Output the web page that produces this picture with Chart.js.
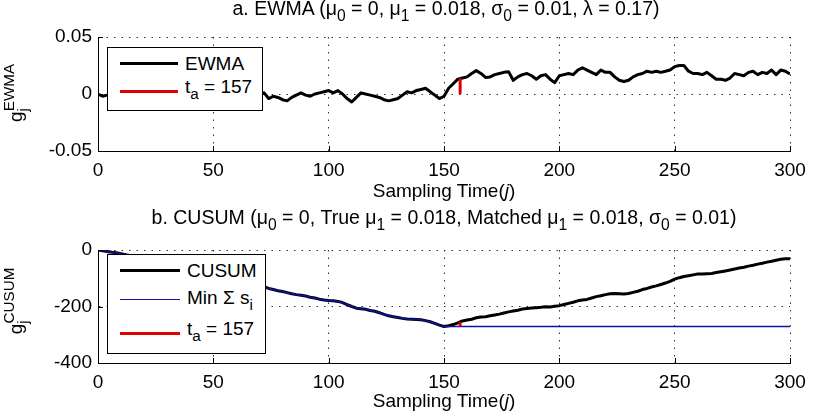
<!DOCTYPE html>
<html>
<head>
<meta charset="utf-8">
<script src="https://cdn.jsdelivr.net/npm/chart.js@4.4.0/dist/chart.umd.min.js"></script>
<style>
  body { margin: 0; background: #fff; }
  #page { position: relative; width: 814px; height: 418px; overflow: hidden;
          font-family: 'Liberation Sans', Arial, sans-serif; color: #000; }
  canvas { position: absolute; left: 0; }
  .t { position: absolute; white-space: nowrap; font-size: 19px; line-height: 19px; }
  .ttl { font-size: 19.5px; }
  .c { transform: translateX(-50%); }
  .sb { font-size: 0.8em; position: relative; top: 0.38em; }
  .ylab { transform: translate(-50%, -50%) rotate(-90deg); }
  .ylab .sp { font-size: 0.8em; position: relative; top: -0.5em; margin-left: -0.2em; }
  .box { position: absolute; border: 1px solid #000; background: #fff; box-sizing: border-box; }
  .sw { position: absolute; }
</style>
</head>
<body>
<div id="page">
  <canvas id="ewma" width="814" height="185" style="top:0"></canvas>
  <canvas id="cusum" width="814" height="218" style="top:200px"></canvas>

  <div class="t c ttl" style="left:446px;top:-1px">a. EWMA (μ<span class="sb">0</span> = 0, μ<span class="sb">1</span> = 0.018, σ<span class="sb">0</span> = 0.01, λ = 0.17)</div>
  <div class="t c" style="left:444px;top:181px">Sampling Time(<i>j</i>)</div>
  <div class="t c ttl" style="left:444px;top:208px">b. CUSUM (μ<span class="sb">0</span> = 0, True μ<span class="sb">1</span> = 0.018, Matched μ<span class="sb">1</span> = 0.018, σ<span class="sb">0</span> = 0.01)</div>
  <div class="t c" style="left:444px;top:391px">Sampling Time(<i>j</i>)</div>

  <div class="t ylab" style="left:16px;top:93px">g<span class="sb">j</span><span class="sp">EWMA</span></div>
  <div class="t ylab" style="left:16px;top:301px">g<span class="sb">j</span><span class="sp">CUSUM</span></div>

  <!-- legend a -->
  <div class="box" style="left:107px;top:47px;width:156px;height:64px"></div>
  <div class="sw" style="left:120px;top:61.5px;width:58px;height:3px;background:#000"></div>
  <div class="t" style="left:185px;top:54px">EWMA</div>
  <div class="sw" style="left:120px;top:89.5px;width:58px;height:3px;background:#e00000"></div>
  <div class="t" style="left:185px;top:77px">t<span class="sb">a</span> = 157</div>

  <!-- legend b -->
  <div class="box" style="left:107px;top:254px;width:159px;height:100px"></div>
  <div class="sw" style="left:120px;top:269px;width:60px;height:3px;background:#000"></div>
  <div class="t" style="left:187px;top:261px">CUSUM</div>
  <div class="sw" style="left:120px;top:299px;width:60px;height:1px;background:#1010b0"></div>
  <div class="t" style="left:187px;top:288px">Min Σ s<span class="sb">i</span></div>
  <div class="sw" style="left:120px;top:331.5px;width:60px;height:3px;background:#e00000"></div>
  <div class="t" style="left:187px;top:319px">t<span class="sb">a</span> = 157</div>
</div>

<script>
// sampling times j = 0, 2, ..., 300
const J = [];
for (let j = 0; j <= 300; j += 2) J.push(j);

const X_TICKS = [0, 50, 100, 150, 200, 250, 300];
const Y_EWMA_TICKS = [-0.05, 0, 0.05];
const Y_CUSUM_TICKS = [-400, -200, 0];

const EWMA = [
  0.000,-0.002,-0.001,0.001,0.002,0.000,-0.002,-0.001,0.002,0.003,
  0.001,-0.001,-0.003,-0.002,0.000,0.002,0.001,-0.001,-0.003,-0.004,
  -0.002,0.000,0.002,0.003,0.001,-0.001,0.000,0.002,0.001,-0.002,
  -0.003,-0.001,0.001,0.000,-0.002,-0.001,0.001,-0.004,-0.002,-0.003,
  -0.005,-0.006,-0.003,-0.001,0.001,-0.001,-0.002,0.000,0.001,0.002,
  0.003,0.001,0.003,0.000,-0.004,-0.007,-0.003,0.001,0.000,-0.001,
  -0.002,-0.003,-0.005,-0.006,-0.005,-0.004,-0.001,0.002,0.001,0.003,
  0.004,0.005,0.002,-0.001,-0.004,-0.002,0.005,0.009,0.013,0.014,
  0.015,0.018,0.0205,0.018,0.0145,0.015,0.017,0.018,0.019,0.0196,
  0.012,0.015,0.017,0.018,0.016,0.013,0.016,0.017,0.013,0.010,
  0.016,0.017,0.018,0.017,0.021,0.023,0.021,0.019,0.017,0.021,
  0.019,0.019,0.015,0.012,0.011,0.012,0.015,0.017,0.018,0.020,
  0.019,0.020,0.019,0.020,0.021,0.024,0.025,0.025,0.020,0.018,
  0.018,0.017,0.019,0.016,0.013,0.013,0.012,0.014,0.018,0.017,
  0.016,0.019,0.020,0.017,0.019,0.018,0.021,0.017,0.021,0.020,
  0.0175
];

const CUSUM = [
  0,-3,-5,-8,-10,-13,-17,-20,-25,-28,
  -32,-35,-40,-44,-46,-50,-55,-58,-62,-65,
  -70,-73,-77,-82,-84,-88,-92,-96,-99,-104,
  -108,-111,-115,-118,-122,-126,-130,-136,-140,-144,
  -147,-151,-155,-158,-160,-163,-167,-170,-174,-177,
  -179,-180,-182,-186,-193,-200,-206,-208,-210,-214,
  -217,-222,-228,-233,-236,-239,-242,-244,-245,-246,
  -247,-250,-254,-260,-266,-271,-268,-264,-258,-251,
  -248,-245,-240,-237,-236,-233,-230,-227,-223,-219,
  -216,-213,-209,-207,-205,-204,-203,-201,-202,-199,
  -197,-193,-189,-185,-180,-177,-175,-170,-165,-162,
  -158,-155,-154,-155,-156,-154,-150,-146,-140,-136,
  -131,-127,-122,-117,-111,-103,-98,-94,-91,-88,
  -85,-85,-84,-83,-80,-77,-74,-71,-67,-64,
  -61,-57,-54,-50,-47,-43,-40,-36,-33,-31,
  -31
];

const MIN_SUM = [
  0,-3,-5,-8,-10,-13,-17,-20,-25,-28,
  -32,-35,-40,-44,-46,-50,-55,-58,-62,-65,
  -70,-73,-77,-82,-84,-88,-92,-96,-99,-104,
  -108,-111,-115,-118,-122,-126,-130,-136,-140,-144,
  -147,-151,-155,-158,-160,-163,-167,-170,-174,-177,
  -179,-180,-182,-186,-193,-200,-206,-208,-210,-214,
  -217,-222,-228,-233,-236,-239,-242,-244,-245,-246,
  -247,-250,-254,-260,-266,-271,-271,-271,-271,-271,
  -271,-271,-271,-271,-271,-271,-271,-271,-271,-271,
  -271,-271,-271,-271,-271,-271,-271,-271,-271,-271,
  -271,-271,-271,-271,-271,-271,-271,-271,-271,-271,
  -271,-271,-271,-271,-271,-271,-271,-271,-271,-271,
  -271,-271,-271,-271,-271,-271,-271,-271,-271,-271,
  -271,-271,-271,-271,-271,-271,-271,-271,-271,-271,
  -271,-271,-271,-271,-271,-271,-271,-271,-271,-271,
  -271
];

const TA = 157;
const TA_EWMA = [0, 0.0138];
const TA_CUSUM = [-271, -255];

Chart.defaults.font.family = "'Liberation Sans', Arial, sans-serif";
Chart.defaults.font.size = 19;
Chart.defaults.color = '#000';

const pts = vals => vals.map((v, i) => ({x: J[i], y: v}));

// matlab-style ticks pointing into the axes
const innerTicks = {
  id: 'innerTicks',
  afterDraw(chart) {
    const {ctx, chartArea: a, scales: {x, y}} = chart;
    ctx.save();
    ctx.strokeStyle = '#000';
    ctx.lineWidth = 1;
    ctx.beginPath();
    x.ticks.forEach(t => {
      const px = Math.round(x.getPixelForValue(t.value)) + 0.5;
      ctx.moveTo(px, a.bottom); ctx.lineTo(px, a.bottom - 5);
    });
    y.ticks.forEach(t => {
      const py = Math.round(y.getPixelForValue(t.value)) + 0.5;
      ctx.moveTo(a.left, py); ctx.lineTo(a.left + 5, py);
    });
    ctx.stroke();
    ctx.restore();
  }
};

function axes(yMin, yMax, yTicks, padTop, xHeight) {
  const grid = {color: '#333', lineWidth: 1, drawTicks: false};
  const border = {display: true, color: '#000', width: 1, dash: [1.5, 6]};
  return {
    layout: {padding: {top: padTop, right: 24, bottom: 0, left: 0}},
    scales: {
      x: {
        type: 'linear', min: 0, max: 300,
        afterBuildTicks: s => { s.ticks = X_TICKS.map(v => ({value: v})); },
        afterFit: s => { s.height = xHeight; },
        ticks: {autoSkip: false, maxRotation: 0, padding: 8},
        grid, border
      },
      y: {
        min: yMin, max: yMax,
        afterBuildTicks: s => { s.ticks = yTicks.map(v => ({value: v})); },
        afterFit: s => { s.width = 98; },
        ticks: {padding: 6, callback: v => String(v)},
        grid, border
      }
    }
  };
}

const common = {
  responsive: false,
  animation: false,
  plugins: {legend: {display: false}, tooltip: {enabled: false}},
  elements: {point: {radius: 0}, line: {tension: 0, borderJoinStyle: 'round'}}
};

new Chart(document.getElementById('ewma'), {
  type: 'line',
  data: {
    datasets: [
      {label: 'EWMA', data: pts(EWMA), borderColor: '#000', borderWidth: 3, order: 2},
      {label: 't_a = 157', data: TA_EWMA.map(v => ({x: TA, y: v})),
       borderColor: '#e00000', borderWidth: 3, order: 0}
    ]
  },
  options: Object.assign({}, common, axes(-0.05, 0.05, Y_EWMA_TICKS, 37, 34)),
  plugins: [innerTicks]
});

new Chart(document.getElementById('cusum'), {
  type: 'line',
  data: {
    datasets: [
      {label: 'CUSUM', data: pts(CUSUM), borderColor: '#000', borderWidth: 3, order: 2},
      {label: 'Min Σ s_i', data: pts(MIN_SUM), borderColor: '#1010a0', borderWidth: 1.5, order: 1},
      {label: 't_a = 157', data: TA_CUSUM.map(v => ({x: TA, y: v})),
       borderColor: '#e00000', borderWidth: 3, order: 0}
    ]
  },
  options: Object.assign({}, common, axes(-400, 0, Y_CUSUM_TICKS, 50, 55)),
  plugins: [innerTicks]
});
</script>
</body>
</html>
